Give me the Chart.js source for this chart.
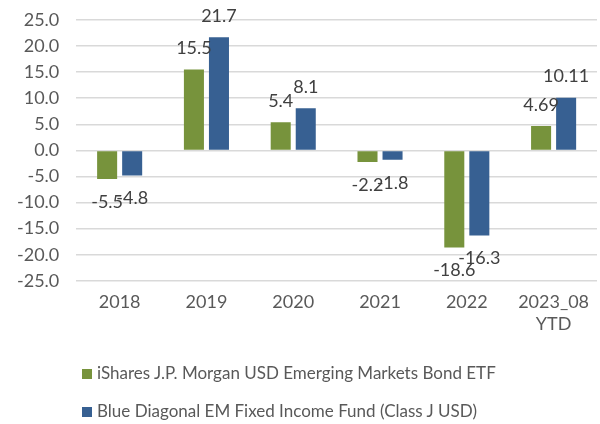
<!DOCTYPE html>
<html>
<head>
<meta charset="utf-8">
<script src="https://cdn.jsdelivr.net/npm/chart.js@4"></script>
<style>
  body { margin: 0; background: #fff; }
  #wrap { position: relative; width: 600px; height: 424px; }
  .leg { position: absolute; left: 82px; font: 17px Lato, sans-serif; color: #595959; white-space: nowrap; }
  .leg span { display: inline-block; width: 10px; height: 10px; margin-right: 5px; vertical-align: 0px; }
</style>
</head>
<body>
<div id="wrap">
  <canvas id="retChart" width="600" height="424"></canvas>
  <div class="leg" id="leg1" style="top:362px"></div>
  <div class="leg" id="leg2" style="top:400px"></div>
</div>
<script>
const categories = ['2018', '2019', '2020', '2021', '2022', ['2023_08', 'YTD']];
const seriesNames = [
    'iShares J.P. Morgan USD Emerging Markets Bond ETF',
    'Blue Diagonal EM Fixed Income Fund (Class J USD)'
];
const etfValues = [-5.5, 15.5, 5.4, -2.2, -18.6, 4.69];
const fundValues = [-4.8, 21.7, 8.1, -1.8, -16.3, 10.11];
const colors = ['#77933C', '#376092'];

// labels at the end of each bar, like Excel "outside end"
const barLabels = {
    id: 'barLabels',
    afterDatasetsDraw(chart) {
        const ctx = chart.ctx;
        ctx.save();
        ctx.font = '18px Lato, sans-serif';
        ctx.fillStyle = '#404040';
        ctx.textAlign = 'center';
        ctx.textBaseline = 'middle';
        chart.data.datasets.forEach((ds, i) => {
            chart.getDatasetMeta(i).data.forEach((bar, j) => {
                const v = ds.data[j];
                const y = v >= 0 ? bar.y - 21 : bar.y + 23;
                ctx.fillText(String(v), bar.x, y);
            });
        });
        ctx.restore();
    }
};

const ctx = document.getElementById('retChart').getContext('2d');
const retChart = new Chart(ctx, {
    type: 'bar',
    data: {
        labels: categories,
        datasets: [{
            label: seriesNames[0],
            data: etfValues,
            backgroundColor: colors[0],
            barPercentage: 0.8,
            categoryPercentage: 0.577
        }, {
            label: seriesNames[1],
            data: fundValues,
            backgroundColor: colors[1],
            barPercentage: 0.8,
            categoryPercentage: 0.577
        }]
    },
    options: {
        responsive: false,
        animation: false,
        devicePixelRatio: 1,
        layout: { padding: { top: 20, right: 3, left: 0, bottom: 86 } },
        plugins: {
            legend: { display: false },
            tooltip: { enabled: false }
        },
        scales: {
            x: {
                grid: { display: false },
                border: { display: false },
                ticks: {
                    color: '#595959',
                    font: { family: 'Lato', size: 18 },
                    padding: 3,
                    maxRotation: 0
                }
            },
            y: {
                min: -25,
                max: 25,
                grid: { color: '#d9d9d9', lineWidth: 1.5, drawTicks: false },
                border: { display: false },
                afterFit: s => { s.paddingTop = 0; s.paddingBottom = 0; },
                ticks: {
                    stepSize: 5,
                    color: '#595959',
                    font: { family: 'Lato', size: 18 },
                    padding: 17,
                    callback: v => v.toFixed(1)
                }
            }
        }
    },
    plugins: [barLabels]
});

['leg1', 'leg2'].forEach((id, i) => {
    const el = document.getElementById(id);
    el.innerHTML = '<span style="background:' + colors[i] + '"></span>' + seriesNames[i];
});
</script>
</body>
</html>
